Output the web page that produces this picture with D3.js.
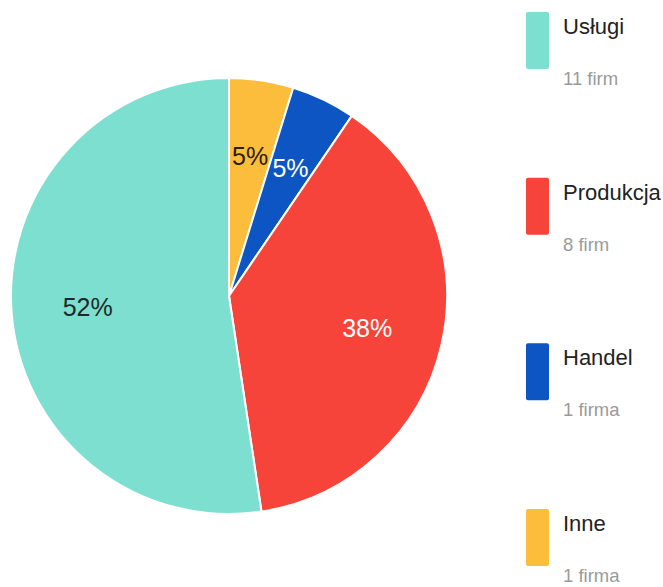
<!DOCTYPE html>
<html>
<head>
<meta charset="utf-8">
<script src="https://cdn.jsdelivr.net/npm/d3@7"></script>
<style>
  html, body { margin: 0; padding: 0; background: #fff; }
  svg { display: block; font-family: "Liberation Sans", Arial, sans-serif; }
</style>
</head>
<body>
<svg id="chart" width="663" height="587"></svg>
<script>
// Firm counts per sector
const categories = ["Usługi", "Produkcja", "Handel", "Inne"];
const counts = [11, 8, 1, 1];
const countLabels = ["11 firm", "8 firm", "1 firma", "1 firma"];
const colors = ["#7ddfd0", "#f7443a", "#0c55c3", "#fcbd3c"];
const labelColors = ["#1e2a28", "#ffffff", "#ffffff", "#2a1e05"];

const svg = d3.select("#chart");
const cx = 229, cy = 296, r = 218;

const data = categories.map((c, i) => ({
  name: c, value: counts[i], color: colors[i], labelColor: labelColors[i], sub: countLabels[i]
}));
const total = d3.sum(counts);
const pct = d3.format(".0%");

// Slices run clockwise from 12 o'clock: Inne, Handel, Produkcja, Usługi
const pie = d3.pie().value(d => d.value).sort(null);
const arcs = pie(data.slice().reverse());

const arc = d3.arc().innerRadius(0).outerRadius(r);
const labelArc = d3.arc().innerRadius(r * 0.65).outerRadius(r * 0.65);

const g = svg.append("g").attr("transform", `translate(${cx},${cy})`);

g.selectAll("path.slice")
  .data(arcs)
  .join("path")
  .attr("class", "slice")
  .attr("d", arc)
  .attr("fill", d => d.data.color)
  .attr("stroke", "#fff")
  .attr("stroke-width", 2)
  .attr("stroke-linejoin", "round");

g.selectAll("text.pct")
  .data(arcs)
  .join("text")
  .attr("class", "pct")
  .attr("transform", d => `translate(${labelArc.centroid(d)})`)
  .attr("text-anchor", "middle")
  .attr("dy", "0.36em")
  .attr("font-size", 25)
  .attr("fill", d => d.data.labelColor)
  .text(d => pct(d.data.value / total));

// Legend
const legendY = d3.scalePoint()
  .domain(categories)
  .range([12, 509]);

const legend = svg.append("g");
const items = legend.selectAll("g.item")
  .data(data)
  .join("g")
  .attr("class", "item")
  .attr("transform", d => `translate(526,${legendY(d.name)})`);

items.append("rect")
  .attr("width", 23)
  .attr("height", 57)
  .attr("rx", 2)
  .attr("fill", d => d.color);

items.append("text")
  .attr("x", 37)
  .attr("y", 22)
  .attr("font-size", 22)
  .attr("fill", "#222")
  .text(d => d.name);

items.append("text")
  .attr("x", 37)
  .attr("y", 73)
  .attr("font-size", 18.5)
  .attr("fill", "#9a9a9a")
  .text(d => d.sub);
</script>
</body>
</html>
